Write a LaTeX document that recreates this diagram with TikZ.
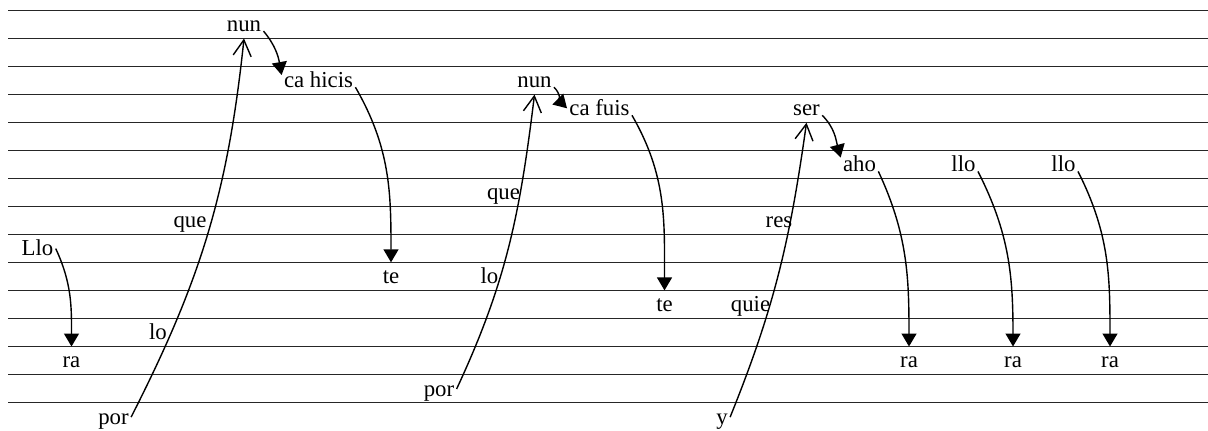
\documentclass[tikz,border=0pt]{standalone}
\usepackage{fontspec}
\setmainfont{Liberation Serif}
\usetikzlibrary{arrows.meta}

\tikzset{
  word/.style={anchor=base, inner xsep=1pt, inner ysep=0pt, text height=10.5pt, text depth=3.5pt},
  rule/.style={line width=0.5pt, black!85},
  fall/.style={line width=0.7pt, -{Triangle[length=6.5pt,width=7.5pt]}},
  rise/.style={line width=0.7pt, -{Straight Barb[length=8pt,width=9pt]}}
}

\begin{document}
\begin{tikzpicture}[x=0.5pt, y=-0.5pt, font=\fontsize{11.4}{13}\selectfont]
  \useasboundingbox (0,0) rectangle (1208,430);
  % ruled lines
  \foreach \k in {0,...,14}
    \draw[rule] (8,{10+28.07*\k}) -- (1208,{10+28.07*\k});

  % first group
  \node[word] (lloA) at (37.5,255.6) {Llo};
  \node[word] (raA) at (71.5,367.9) {ra};
  \node[word] (porA) at (113.5,424.1) {por};
  \node[word] (loA) at (158,339.8) {lo};
  \node[word] (queA) at (190,227.6) {que};
  \node[word] (nunA) at (244,31.1) {nun};
  \node[word] (cahicis) at (318.5,87.2) {ca hicis};
  \node[word] (teA) at (391,283.7) {te};

  % second group
  \node[word] (porB) at (439,396.0) {por};
  \node[word] (loB) at (489.5,283.7) {lo};
  \node[word] (queB) at (503.5,199.5) {que};
  \node[word] (nunB) at (534.5,87.2) {nun};
  \node[word] (cafuis) at (599.5,115.3) {ca fuis};
  \node[word] (teB) at (664.5,311.8) {te};

  % third group
  \node[word] (yy) at (722,424.1) {y};
  \node[word] (quie) at (750.5,311.8) {quie};
  \node[word] (res) at (779,227.6) {res};
  \node[word] (ser) at (806.5,115.3) {ser};
  \node[word] (aho) at (859.5,171.4) {aho};
  \node[word] (lloB) at (963.5,171.4) {llo};
  \node[word] (lloC) at (1063.5,171.4) {llo};
  \node[word] (raB) at (909,367.9) {ra};
  \node[word] (raC) at (1013,367.9) {ra};
  \node[word] (raD) at (1110,367.9) {ra};

  \draw[fall] (lloA.east) to[out=-65,in=90] (raA.north);
  \draw[rise] (porA.east) to[out=63,in=-96] (nunA.south);
  \draw[fall] (nunA.base east) to[out=-50,in=100] (cahicis.172);
  \draw[fall] (cahicis.base east) to[out=-60,in=90] (teA.north);

  \draw[rise] (porB.east) to[out=65,in=-97] (nunB.south);
  \draw[fall] (nunB.base east) to[out=-45,in=135] (cafuis.west);
  \draw[fall] (cafuis.base east) to[out=-60,in=90] (teB.north);

  \draw[rise] (yy.east) to[out=68,in=-98] (ser.south);
  \draw[fall] (ser.base east) to[out=-45,in=105] (aho.160);
  \draw[fall] (aho.base east) to[out=-65,in=90] (raB.north);
  \draw[fall] (lloB.base east) to[out=-63,in=90] (raC.north);
  \draw[fall] (lloC.base east) to[out=-63,in=90] (raD.north);
\end{tikzpicture}
\end{document}
